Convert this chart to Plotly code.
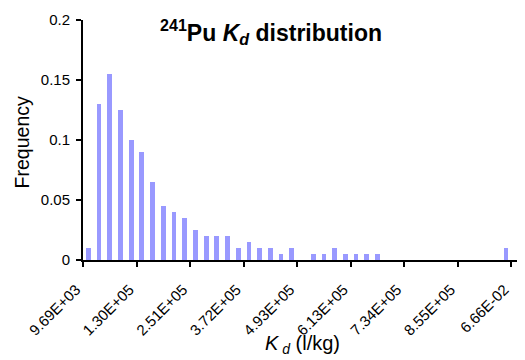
import numpy as np
import plotly.graph_objects as go

# Frequencies of each Kd bin (41 bins, last bin empty)
frequency = [0.01, 0.13, 0.155, 0.125, 0.10, 0.09, 0.065, 0.045, 0.04, 0.035,
             0.025, 0.02, 0.02, 0.02, 0.01, 0.015, 0.01, 0.01, 0.005, 0.01,
             0.0, 0.005, 0.005, 0.01, 0.005, 0.005, 0.005, 0.005, 0.0, 0.0,
             0.0, 0.0, 0.0, 0.0, 0.0, 0.0, 0.0, 0.0, 0.0, 0.01,
             0.0]
tick_labels = ["9.69E+03", "1.30E+05", "2.51E+05", "3.72E+05", "4.93E+05",
               "6.13E+05", "7.34E+05", "8.55E+05", "6.66E-02"]
label_step = 5
y_ticks = [0, 0.05, 0.1, 0.15, 0.2]
y_tick_text = ["0", "0.05", "0.1", "0.15", "0.2"]

n = len(frequency)
bin_pos = np.arange(n) + 0.5
tick_pos = np.arange(len(tick_labels)) * label_step

FONT = "Liberation Sans, Arial, sans-serif"

# page body has an 8px margin, so the figure is sized 8px smaller
fig = go.Figure(go.Bar(x=bin_pos, y=frequency, width=0.45,
                       marker=dict(color="#9999FF", line=dict(width=0))))

fig.update_layout(
    width=517, height=352,
    margin=dict(l=75, r=3, t=12, b=100, autoexpand=False),
    paper_bgcolor="white", plot_bgcolor="white",
    font=dict(family=FONT, size=15, color="black"),
    showlegend=False,
    bargap=0,
)
fig.update_xaxes(range=[0, n], tickvals=tick_pos, ticktext=tick_labels,
                 tickangle=-45, ticks="outside", ticklen=5, tickwidth=2,
                 tickcolor="black", showline=True, linecolor="black",
                 linewidth=2, showgrid=False, zeroline=False,
                 automargin=False, tickfont=dict(size=15),
                 ticklabelshift=-7, ticklabelstandoff=8)
fig.update_yaxes(range=[0, 0.2], tickvals=y_ticks, ticktext=y_tick_text,
                 ticks="outside", ticklen=5, tickwidth=2, tickcolor="black",
                 showline=True, linecolor="black", linewidth=2,
                 showgrid=False, zeroline=False, automargin=False,
                 tickfont=dict(size=15), ticklabelstandoff=3)

fig.add_annotation(text="<b><sup>241</sup>Pu <i>K</i><sub><i>d</i></sub> distribution</b>",
                   xref="paper", yref="paper", x=0.4286, y=0.95,
                   xanchor="center", yanchor="middle", showarrow=False,
                   font=dict(size=23, family=FONT))
fig.add_annotation(text="<i>K</i><sub><i> d</i></sub> (l/kg)",
                   xref="paper", yref="paper", x=0.5, y=0, yshift=-84,
                   xanchor="center", yanchor="middle", showarrow=False,
                   font=dict(size=20, family=FONT))
fig.add_annotation(text="Frequency", textangle=-90,
                   xref="paper", yref="paper", x=0, xshift=-61, y=0.49,
                   xanchor="center", yanchor="middle", showarrow=False,
                   font=dict(size=19.5, family=FONT))

fig.write_html("out.html")
